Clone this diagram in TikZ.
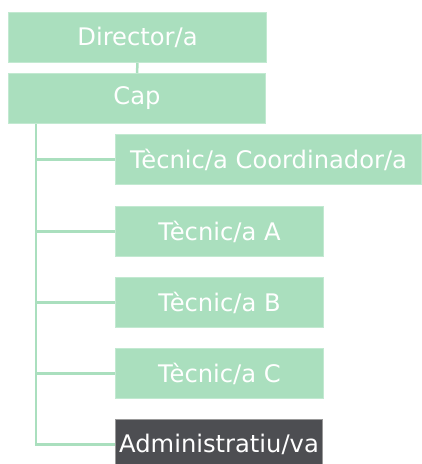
\documentclass[tikz,border=0pt]{standalone}
\usepackage{fontspec}
\setmainfont{DejaVu Sans}
\definecolor{boxgreen}{HTML}{AADFBE}
\definecolor{edgegreen}{HTML}{C2E9D1}
\definecolor{boxdark}{HTML}{4D4E52}
\tikzset{
  post/.style={fill = boxgreen, draw = edgegreen, line width = 1pt, text = white,
    inner sep = 0pt, minimum height = 50pt, anchor = north west,
    font = \fontsize{24.2}{27}\selectfont},
  postdark/.style={post, fill = boxdark, draw = black!40},
  link/.style={draw = boxgreen, line width = 2.5pt}
}
\begin{document}
\begin{tikzpicture}[x = 1pt, y = -1pt]
        \useasboundingbox (0, 0) rectangle (422, 464);
        \node (dir) at (8, 12) [post, minimum width = 258pt] {Director/a};
        \node (cap) at (8, 73) [post, minimum width = 257pt] {Cap};
        \node (coord) at (115, 134) [post, minimum width = 306pt] {Tècnic/a Coordinador/a};
        \node (tecA) at (115, 206) [post, minimum width = 208pt] {Tècnic/a A};
        \node (tecB) at (115, 277) [post, minimum width = 208pt] {Tècnic/a B};
        \node (tecC) at (115, 348) [post, minimum width = 208pt] {Tècnic/a C};
        \node (admin) at (115, 419) [postdark, minimum width = 207pt] {Administratiu/va};
        \coordinate (trunk) at ([xshift = 28pt]cap.south west);
        \draw[link] (dir.south) -- (cap.north);
        \draw[link] (trunk) |- (coord.west);
        \draw[link] (trunk) |- (tecA.west);
        \draw[link] (trunk) |- (tecB.west);
        \draw[link] (trunk) |- (tecC.west);
        \draw[link] (trunk) |- (admin.west);
    \end{tikzpicture}
\end{document}
